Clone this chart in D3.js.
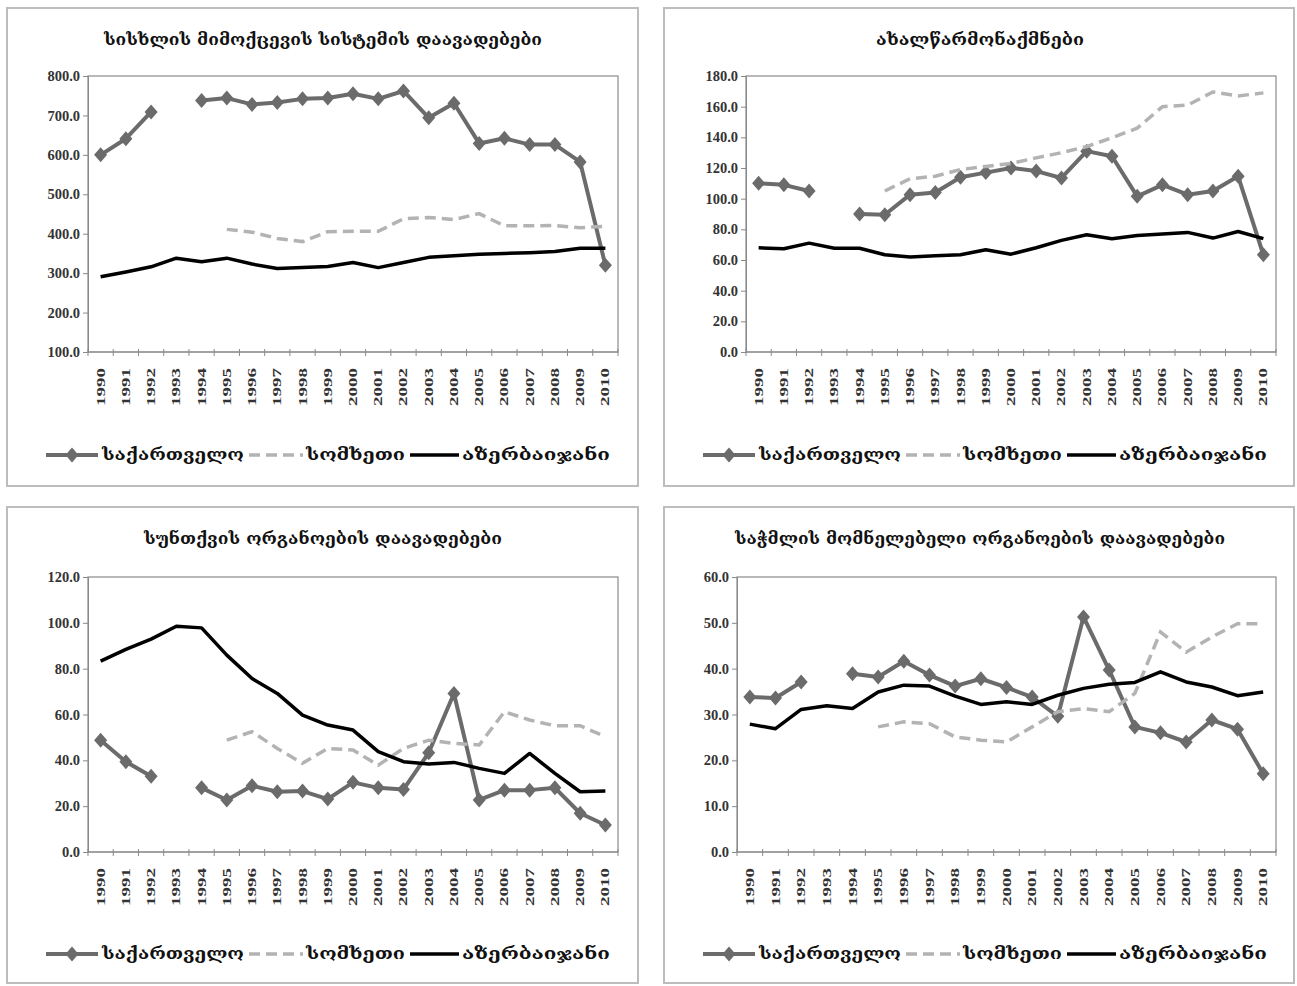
<!DOCTYPE html>
<html><head><meta charset="utf-8">
<script src="https://cdn.jsdelivr.net/npm/d3@7/dist/d3.min.js"></script>
<style>body{margin:0;background:#fff}</style>
</head><body>
<svg id="c" width="1297" height="986"></svg>
<script>
// ---------- DATA ----------
const years = ["1990","1991","1992","1993","1994","1995","1996","1997","1998","1999","2000",
               "2001","2002","2003","2004","2005","2006","2007","2008","2009","2010"];
const seriesNames = ["საქართველო","სომხეთი","აზერბაიჯანი"];
const titles = [
  "სისხლის მიმოქცევის სისტემის დაავადებები",
  "ახალწარმონაქმნები",
  "სუნთქვის ორგანოების დაავადებები",
  "საჭმლის მომნელებელი ორგანოების დაავადებები"
];

// circulatory system
const circGeo = [600,641,709,null,738,744,728,733,742,744,755,742,762,694,731,629,642,626,626,582,320];
const circArm = [null,null,null,null,null,411,404,388,380,405,406,406,438,441,436,451,420,420,421,415,419];
const circAze = [291,303,316,338,329,338,323,312,314,317,327,314,327,340,344,348,350,352,355,363,363];
const circTicks = [100,200,300,400,500,600,700,800];

// neoplasms
const neoGeo = [110,109,105,null,90,89.5,102.6,104,114,117,120,118,113.5,131,127.7,101.5,109,102.6,105,114.6,63.4];
const neoArm = [null,null,null,null,null,105,113,114.6,119,121,123,126.6,130,134,139.7,146,160,161,169.6,167,169];
const neoAze = [68,67.3,71,67.7,67.7,63.4,62,62.7,63.4,66.7,63.8,68,72.8,76.5,73.9,76,77,78,74.3,78.6,73.9];
const neoTicks = [0,20,40,60,80,100,120,140,160,180];

// respiratory
const respGeo = [48.8,39.4,33.1,null,28,22.7,28.9,26.3,26.6,23.1,30.4,28,27.3,43.3,69.2,22.7,27,27,28,16.9,11.8];
const respArm = [null,null,null,null,null,48.8,52.5,45.2,38.7,45.2,44.5,37.9,45.2,48.8,47.4,46.7,61.2,57.6,55.1,55.1,50.3];
const respAze = [83.3,88.4,92.9,98.5,97.8,85.9,75.7,69.2,59.7,55.4,53.2,43.8,39.4,38.4,39.1,36.5,34.3,43,34.3,26.3,26.6];
const respTicks = [0,20,40,60,80,100,120];

// digestive
const digGeo = [33.8,33.6,37.1,null,38.9,38.2,41.6,38.6,36.2,37.8,35.9,33.8,29.6,51.3,39.7,27.3,26,24,28.8,26.8,17.1];
const digArm = [null,null,null,null,null,27.3,28.4,28,25.1,24.4,24,27.3,30.6,31.3,30.6,34.6,48,43.6,46.9,49.8,49.8];
const digAze = [27.9,26.9,31.1,31.9,31.3,34.9,36.4,36.2,34,32.2,32.8,32.2,34.2,35.7,36.6,37,39.3,37.1,36,34.1,34.9];
const digTicks = [0,10,20,30,40,50,60];

// ---------- LAYOUT ----------
const charts = [
  {title: titles[0], geo: circGeo, arm: circArm, aze: circAze, ticks: circTicks,
   box:{x:7,y:8,w:631,h:478}, plot:{l:88,r:618,t:76,b:352}, titleW:438},
  {title: titles[1], geo: neoGeo, arm: neoArm, aze: neoAze, ticks: neoTicks,
   box:{x:664,y:8,w:630,h:478}, plot:{l:746,r:1276,t:76,b:352}, titleW:208},
  {title: titles[2], geo: respGeo, arm: respArm, aze: respAze, ticks: respTicks,
   box:{x:7,y:507,w:631,h:476}, plot:{l:88,r:618,t:577,b:852}, titleW:358},
  {title: titles[3], geo: digGeo, arm: digArm, aze: digAze, ticks: digTicks,
   box:{x:664,y:507,w:630,h:476}, plot:{l:737,r:1276,t:577,b:852}, titleW:490}
];

const geoColor = "#6b6b6b", armColor = "#b3b3b3", azeColor = "#000";
const geoFont = "'DejaVu Serif','DejaVu Sans',serif";
const numFont = "'Liberation Serif','Times New Roman',serif";

const diamond = {
  draw(ctx, size) {
    const w = 6.5, h = 7.5;
    ctx.moveTo(0,-h); ctx.lineTo(w,0); ctx.lineTo(0,h); ctx.lineTo(-w,0); ctx.closePath();
  }
};

const svg = d3.select("#c");

charts.forEach(c => {
  const g = svg.append("g");
  const B = c.box, P = c.plot;

  g.append("rect").attr("x",B.x).attr("y",B.y).attr("width",B.w).attr("height",B.h)
    .attr("fill","#fff").attr("stroke","#bdbdbd").attr("stroke-width",2);

  // title
  g.append("text").attr("x", B.x + 316).attr("y", B.y + 37)
    .attr("text-anchor","middle").attr("font-family",geoFont).attr("font-weight","bold")
    .attr("font-size",16).attr("fill","#111")
    .attr("textLength",c.titleW).attr("lengthAdjust","spacingAndGlyphs")
    .text(c.title);

  const x = d3.scaleBand().domain(years).range([P.l, P.r]);
  const xc = d => x(d) + x.bandwidth()/2;
  const y = d3.scaleLinear().domain([c.ticks[0], c.ticks[c.ticks.length-1]]).range([P.b, P.t]);

  // plot area
  g.append("rect").attr("x",P.l).attr("y",P.t).attr("width",P.r-P.l).attr("height",P.b-P.t)
    .attr("fill","#fff").attr("stroke","#8a8a8a").attr("stroke-width",1.2);

  // y axis
  const ya = g.append("g").attr("transform",`translate(${P.l},0)`)
    .call(d3.axisLeft(y).tickValues(c.ticks).tickFormat(d3.format(".1f")).tickSize(5).tickPadding(3));
  ya.select(".domain").attr("stroke","#8a8a8a");
  ya.selectAll(".tick line").attr("stroke","#8a8a8a");
  ya.selectAll(".tick text").attr("font-family",numFont).attr("font-weight","bold")
    .attr("font-size",14.5).attr("fill","#333");

  // x axis ticks at category boundaries
  const bounds = years.map(d => x(d)).concat([P.r]);
  g.append("g").selectAll("line").data(bounds).join("line")
    .attr("x1",d=>d).attr("x2",d=>d).attr("y1",P.b-3).attr("y2",P.b+4)
    .attr("stroke","#8a8a8a").attr("stroke-width",1);
  g.append("line").attr("x1",P.l).attr("x2",P.r).attr("y1",P.b).attr("y2",P.b)
    .attr("stroke","#8a8a8a").attr("stroke-width",1.2);

  // x labels
  g.append("g").selectAll("text").data(years).join("text")
    .attr("transform", d => `translate(${xc(d)+4},${P.b+16}) rotate(-90)`)
    .attr("text-anchor","end").attr("font-family",numFont).attr("font-weight","bold")
    .attr("font-size",12).attr("fill","#333")
    .attr("textLength",38).attr("lengthAdjust","spacingAndGlyphs")
    .text(d => d);

  const line = d3.line().defined(d => d.v != null).x(d => xc(d.yr)).y(d => y(d.v));
  const pts = arr => years.map((yr,i) => ({yr, v: arr[i]}));

  // series
  g.append("path").datum(pts(c.geo)).attr("d",line).attr("fill","none")
    .attr("stroke",geoColor).attr("stroke-width",4).attr("stroke-linejoin","round");
  g.append("g").selectAll("path").data(pts(c.geo).filter(d => d.v != null)).join("path")
    .attr("d", d3.symbol(diamond)).attr("transform", d => `translate(${xc(d.yr)},${y(d.v)})`)
    .attr("fill",geoColor);

  g.append("path").datum(pts(c.arm)).attr("d",line).attr("fill","none")
    .attr("stroke",armColor).attr("stroke-width",3.5).attr("stroke-dasharray","11,6");

  g.append("path").datum(pts(c.aze)).attr("d",line).attr("fill","none")
    .attr("stroke",azeColor).attr("stroke-width",3.5).attr("stroke-linejoin","round");

  // legend
  const ly = B.y + 447;
  const L = g.append("g");
  L.append("line").attr("x1",B.x+39).attr("x2",B.x+91).attr("y1",ly).attr("y2",ly)
    .attr("stroke",geoColor).attr("stroke-width",4);
  L.append("path").attr("d",d3.symbol(diamond)).attr("transform",`translate(${B.x+65},${ly})`)
    .attr("fill",geoColor);
  L.append("line").attr("x1",B.x+242).attr("x2",B.x+296).attr("y1",ly).attr("y2",ly)
    .attr("stroke",armColor).attr("stroke-width",3.5).attr("stroke-dasharray","11,6");
  L.append("line").attr("x1",B.x+403).attr("x2",B.x+452).attr("y1",ly).attr("y2",ly)
    .attr("stroke",azeColor).attr("stroke-width",3.5);
  const lt = [{t:seriesNames[0], x:95, w:142},{t:seriesNames[1], x:299, w:99},{t:seriesNames[2], x:455, w:148}];
  L.selectAll("text").data(lt).join("text")
    .attr("x", d => B.x + d.x).attr("y", ly + 5)
    .attr("font-family",geoFont).attr("font-weight","bold").attr("font-size",16).attr("fill","#111")
    .attr("textLength", d => d.w).attr("lengthAdjust","spacingAndGlyphs")
    .text(d => d.t);
});
</script>
</body></html>
